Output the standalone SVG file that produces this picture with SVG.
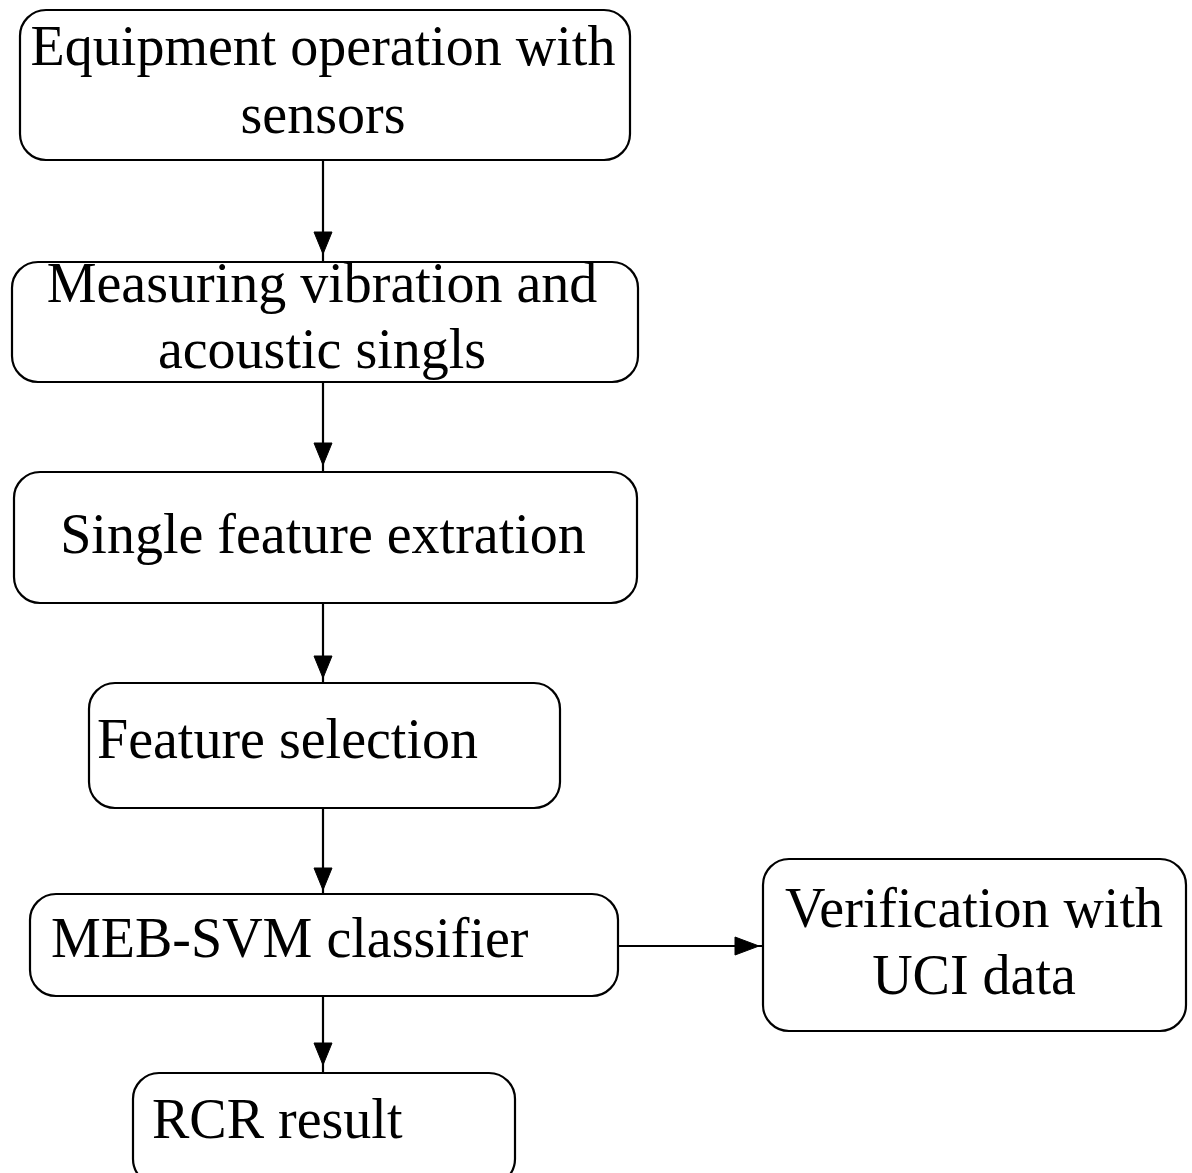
<svg xmlns="http://www.w3.org/2000/svg" width="1192" height="1173" viewBox="0 0 1192 1173">
<style>
.box{fill:#fff;stroke:#000;stroke-width:2.2}
.t{font-family:"Liberation Serif","Times New Roman",serif;font-size:56px;fill:#000}
.c{text-anchor:middle}
.ln{stroke:#000;stroke-width:2.2;fill:none}
.ah{fill:#000;stroke:#000;stroke-width:1}
</style>
<rect width="1192" height="1173" fill="#fff"/>
<g id="connectors">
<line class="ln" x1="323" y1="160" x2="323" y2="262"/>
<polygon class="ah" points="314,232 332,232 323,254"/>
<line class="ln" x1="323" y1="382" x2="323" y2="472"/>
<polygon class="ah" points="314,443 332,443 323,465"/>
<line class="ln" x1="323" y1="603" x2="323" y2="683"/>
<polygon class="ah" points="314,656 332,656 323,678"/>
<line class="ln" x1="323" y1="808" x2="323" y2="894"/>
<polygon class="ah" points="314,868 332,868 323,890"/>
<line class="ln" x1="323" y1="996" x2="323" y2="1073"/>
<polygon class="ah" points="314,1043 332,1043 323,1065"/>
<line class="ln" x1="619" y1="946" x2="763" y2="946"/>
<polygon class="ah" points="735,937 735,955 759,946"/>
</g>
<g id="n1">
<rect class="box" x="20" y="10" width="610" height="150" rx="26"/>
<text class="t c" x="323" y="65">Equipment operation with</text>
<text class="t c" x="323" y="133">sensors</text>
</g>
<g id="n2">
<rect class="box" x="12" y="262" width="626" height="120" rx="26"/>
<text class="t c" x="322" y="302">Measuring vibration and</text>
<text class="t c" x="322" y="368">acoustic singls</text>
</g>
<g id="n3">
<rect class="box" x="14" y="472" width="623" height="131" rx="26"/>
<text class="t c" x="323" y="553">Single feature extration</text>
</g>
<g id="n4">
<rect class="box" x="89" y="683" width="471" height="125" rx="26"/>
<text class="t" x="97" y="758">Feature selection</text>
</g>
<g id="n5">
<rect class="box" x="30" y="894" width="588" height="102" rx="26"/>
<text class="t" x="51" y="957">MEB-SVM classifier</text>
</g>
<g id="n6">
<rect class="box" x="763" y="859" width="423" height="172" rx="26"/>
<text class="t c" x="974" y="927">Verification with</text>
<text class="t c" x="974" y="994">UCI data</text>
</g>
<g id="n7">
<rect class="box" x="133" y="1073" width="382" height="112" rx="26"/>
<text class="t" x="152" y="1138">RCR result</text>
</g>
</svg>
